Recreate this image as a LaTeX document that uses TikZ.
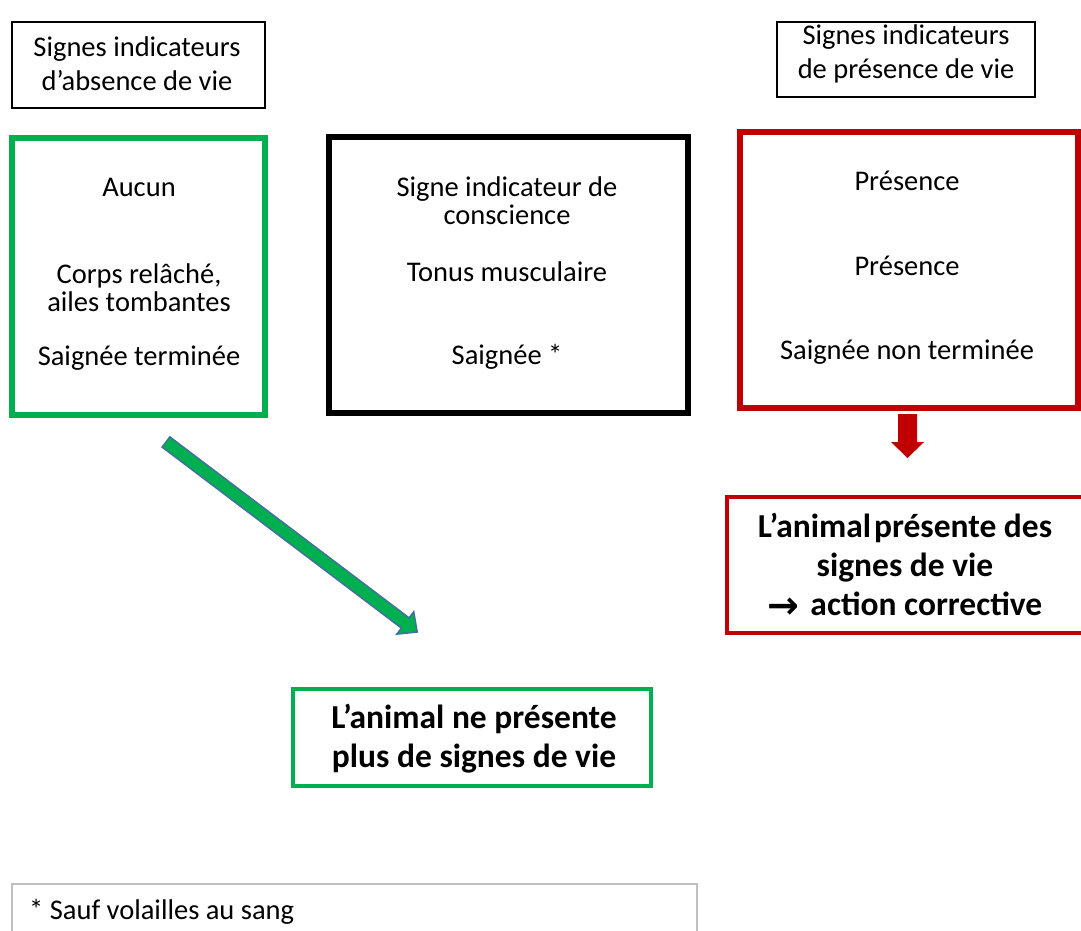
\documentclass[tikz,border=0pt]{standalone}
\usepackage{fontspec}
\setmainfont{Carlito}
\newfontfamily\symfont{DejaVu Sans}
\usetikzlibrary{calc}

\definecolor{okgreen}{HTML}{00B050}
\definecolor{alertred}{HTML}{C00000}
\definecolor{edgeblue}{HTML}{41719C}
\definecolor{notegray}{HTML}{BFBFBF}

% block arrow along the local x axis: length, shaft half width, head half width, head length
\newcommand{\blockarrow}[4]{(0,#2) -- ({#1-#4},#2) -- ({#1-#4},#3) -- (#1,0) -- ({#1-#4},-#3) -- ({#1-#4},-#2) -- (0,-#2) -- cycle}

\begin{document}
\begin{tikzpicture}[x=1pt, y=-1pt,
	txt/.style={align=center, inner sep=0pt, font=\fontsize{28.5}{34}\selectfont},
	coltxt/.style={txt, font=\fontsize{28.5}{28}\selectfont},
	bigtxt/.style={align=center, inner sep=0pt, font=\fontsize{33.5}{39}\selectfont\bfseries},
	labelbox/.style={draw, line width=1.5pt, inner sep=0pt},
	colbox/.style={draw, line width=6pt, inner sep=0pt},
	endbox/.style={draw, line width=4.5pt, inner sep=0pt}]
	\useasboundingbox (0,0) rectangle (1081,930);

	% headings
	\node[labelbox, minimum width=253, minimum height=86] (absence) at (138.5,65) {};
	\node[txt] (absencetxt) at (137,64) {Signes indicateurs\\d’absence de vie};
	\node[labelbox, minimum width=258, minimum height=75] (presence) at (906,59.5) {};
	\node[txt] (presencetxt) at (906,54) {Signes indicateurs\\de présence de vie};

	% the three columns
	\node[colbox, okgreen, minimum width=253, minimum height=277] (absbox) at (138.5,276.5) {};
	\node[colbox, minimum width=359, minimum height=276] (midbox) at (508.5,275) {};
	\node[colbox, alertred, line width=5.5pt, minimum width=338, minimum height=276] (presbox) at (909,270) {};

	\node[coltxt] (abs1) at (139,187) {Aucun};
	\node[coltxt] (abs2) at (139,288) {Corps relâché,\\ailes tombantes};
	\node[coltxt] (abs3) at (139,358) {Saignée terminée};

	\node[coltxt] (mid1) at (507,201) {Signe indicateur de\\conscience};
	\node[coltxt] (mid2) at (507,272) {Tonus musculaire};
	\node[coltxt] (mid3) at (507,357) {Saignée *};

	\node[coltxt] (pres1) at (907,181) {Présence};
	\node[coltxt] (pres2) at (907,266) {Présence};
	\node[coltxt] (pres3) at (907,352) {Saignée non terminée};

	% outcomes
	\node[endbox, okgreen, minimum width=358, minimum height=97] (deadbox) at (472,737.5) {};
	\node[bigtxt] (deadtxt) at (474,739) {L’animal ne présente\\plus de signes de vie};
	\node[endbox, alertred, minimum width=360, minimum height=136] (alivebox) at (907,565) {};
	\node[bigtxt] (alivetxt) at (905,566) {L’animal\hspace{3pt}présente des\\signes de vie\\{\symfont\fontsize{38}{39}\selectfont\raisebox{-3pt}{→}}\hspace{11pt}action corrective};

	% arrows
	\coordinate (gtail) at (166,442);
	\coordinate (rtail) at (907.5,414);
	\begin{scope}[shift={(gtail)}, rotate=-37.1]
		\filldraw[fill=okgreen, draw=edgeblue, line width=1.5pt, line join=miter] \blockarrow{315}{6.4}{14}{15};
	\end{scope}
	\begin{scope}[shift={(rtail)}, rotate=-90]
		\fill[alertred] \blockarrow{44}{9.5}{16.5}{16};
	\end{scope}

	% footnote
	\node[draw=notegray, line width=1.5pt, minimum width=685, minimum height=100] (note) at (354.5,934) {};
	\node[txt, anchor=west] (notetxt) at (29,912) {* Sauf volailles au sang};
\end{tikzpicture}
\end{document}
